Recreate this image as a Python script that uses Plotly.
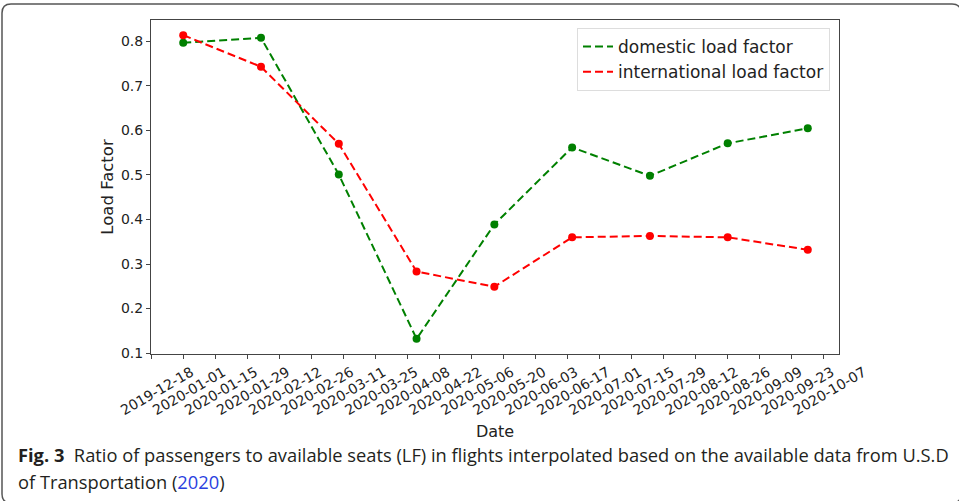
import plotly.graph_objects as go
import pandas as pd

# ---- data ----
dates = ["2020-01-01", "2020-02-04", "2020-03-09", "2020-04-12", "2020-05-16",
         "2020-06-19", "2020-07-23", "2020-08-26", "2020-09-30"]
domestic_lf = [0.797, 0.808, 0.501, 0.132, 0.389, 0.562, 0.498, 0.571, 0.605]
international_lf = [0.814, 0.743, 0.570, 0.283, 0.249, 0.360, 0.363, 0.360, 0.332]
tick_dates = ["2019-12-18", "2020-01-01", "2020-01-15", "2020-01-29", "2020-02-12",
              "2020-02-26", "2020-03-11", "2020-03-25", "2020-04-08", "2020-04-22",
              "2020-05-06", "2020-05-20", "2020-06-03", "2020-06-17", "2020-07-01",
              "2020-07-15", "2020-07-29", "2020-08-12", "2020-08-26", "2020-09-09",
              "2020-09-23", "2020-10-07"]
y_ticks = [0.1, 0.2, 0.3, 0.4, 0.5, 0.6, 0.7, 0.8]

# ---- layout geometry (pixels) ----
W, H = 959, 501
L, R, T, B = 151, 839, 20, 354

def px(x):
    return (x - L) / (R - L)

def py(y):
    return (B - y) / (B - T)

# matplotlib-like 5% margins
d = pd.to_datetime(dates)
span = d.max() - d.min()
xr = [pd.Timestamp(tick_dates[0]) - pd.Timedelta(hours=2), d.max() + 0.05 * span]
allv = domestic_lf + international_lf
ys = max(allv) - min(allv)
yr = [min(allv) - 0.05 * ys, max(allv) + 0.05 * ys]

GREEN, RED = "#008000", "#ff0000"
FONT = "DejaVu Sans"

fig = go.Figure()
fig.add_trace(go.Scatter(x=dates, y=domestic_lf, mode="lines", name="domestic load factor",
                         line=dict(color=GREEN, width=2, dash="8px,4px")))
fig.add_trace(go.Scatter(x=dates, y=international_lf, mode="lines", name="international load factor",
                         line=dict(color=RED, width=2, dash="8px,4px")))
fig.add_trace(go.Scatter(x=dates, y=domestic_lf, mode="markers", showlegend=False,
                         marker=dict(color=GREEN, size=8)))
fig.add_trace(go.Scatter(x=dates, y=international_lf, mode="markers", showlegend=False,
                         marker=dict(color=RED, size=8)))

fig.update_xaxes(
    type="date", range=xr, tickvals=tick_dates, ticktext=tick_dates, tickangle=-30,
    ticklabelshift=40,
    tickfont=dict(family=FONT, size=14, color="#222"),
    ticks="outside", ticklen=4, tickcolor="#444",
    showline=True, mirror=True, linecolor="#444", linewidth=1, showgrid=False, zeroline=False,
    title=dict(text="Date", font=dict(family=FONT, size=16, color="#222"), standoff=8),
)
fig.update_yaxes(
    range=yr, tickvals=y_ticks, ticktext=[f"{v:.1f}" for v in y_ticks],
    tickfont=dict(family=FONT, size=14, color="#222"),
    ticks="outside", ticklen=4, tickcolor="#444",
    showline=True, mirror=True, linecolor="#444", linewidth=1, showgrid=False, zeroline=False,
    title=dict(text="Load Factor", font=dict(family=FONT, size=16.5, color="#222"), standoff=3),
)

# frame with rounded corners (right and bottom edges fall just outside the page)
x0, x1, y0, y1, r = 2, 961, 4, 503, 9
path = (f"M {px(x0)},{py(y0 + r)} Q {px(x0)},{py(y0)} {px(x0 + r)},{py(y0)} "
        f"L {px(x1 - r)},{py(y0)} Q {px(x1)},{py(y0)} {px(x1)},{py(y0 + r)} "
        f"L {px(x1)},{py(y1 - r)} Q {px(x1)},{py(y1)} {px(x1 - r)},{py(y1)} "
        f"L {px(x0 + r)},{py(y1)} Q {px(x0)},{py(y1)} {px(x0)},{py(y1 - r)} Z")
fig.add_shape(type="path", path=path, xref="paper", yref="paper",
              line=dict(color="#555", width=1.5), layer="below")

CAP = "Open Sans, sans-serif"
fig.add_annotation(
    text="<b>Fig. 3</b>  Ratio of passengers to available seats (LF) in flights interpolated based on the available data from U.S.D",
    xref="paper", yref="paper", x=px(16), y=py(454), xanchor="left", yanchor="middle",
    showarrow=False, font=dict(family=CAP, size=18.3, color="#231f20"))
fig.add_annotation(
    text="of Transportation (<span style='color:#2b3fe0'>2020</span>)",
    xref="paper", yref="paper", x=px(16), y=py(481), xanchor="left", yanchor="middle",
    showarrow=False, font=dict(family=CAP, size=18.3, color="#231f20"))

fig.update_layout(
    width=W, height=H, margin=dict(l=L, r=W - R, t=T, b=H - B),
    paper_bgcolor="white", plot_bgcolor="white",
    legend=dict(x=px(830), y=py(28), xanchor="right", yanchor="top",
                bgcolor="white", bordercolor="#dddddd", borderwidth=1,
                font=dict(family=FONT, size=17, color="#222"), itemwidth=30,
                tracegroupgap=0),
)

fig.write_html("out.html", config={"displayModeBar": False},
               post_script="document.body.style.margin='0';")
